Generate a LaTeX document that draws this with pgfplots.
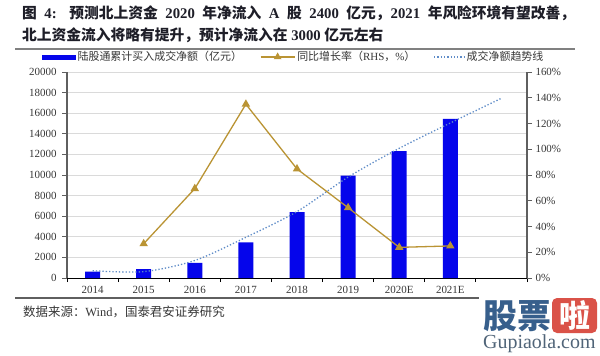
\documentclass[border=0pt]{standalone}
\usepackage{pgfplots}
\pgfplotsset{compat=1.18}
\usepackage{fontspec}
\setmainfont{Liberation Serif}
\newfontfamily\cjk{Noto Sans CJK SC}
\definecolor{barblue}{RGB}{5,5,235}
\definecolor{gold}{RGB}{186,148,52}
\definecolor{trendc}{RGB}{95,140,200}
\definecolor{axgray}{RGB}{95,95,95}
\definecolor{gridgray}{RGB}{218,218,218}
\definecolor{txtgray}{RGB}{55,55,55}
\definecolor{titlecol}{RGB}{30,30,40}
\definecolor{wmblue}{RGB}{55,95,140}
\definecolor{wmred}{RGB}{218,82,72}
\definecolor{wmtext}{RGB}{80,100,120}

\pgfplotstableread{
x y
0 612
1 850
2 1460
3 3460
4 6400
5 9930
6 12330
7 15440
}\bars
\pgfplotstableread{
x y
1 26.6
2 69.4
3 135.0
4 84.7
5 54.6
6 23.8
7 24.9
}\growth
\pgfplotstableread{
x y
0 710
1 620
2 1700
3 3950
4 6450
5 9800
6 12590
7 15050
8 17450
}\trend

\begin{document}
\begin{tikzpicture}[x=1bp,y=1bp]
\fill[white] (0,0) rectangle (600,355);
\useasboundingbox (0,0) rectangle (600,355);

% title
\node[anchor=base west, inner sep=0pt, text=titlecol, font=\fontsize{14.8}{16}\selectfont\bfseries] at (22,337)
{\makebox[553bp][s]{{\cjk 图} 4: {\cjk 预测北上资金} 2020 {\cjk 年净流入} A {\cjk 股} 2400 {\cjk 亿元，}2021 {\cjk 年风险环境有望改善，}}};
\node[anchor=base west, inner sep=0pt, text=titlecol, font=\fontsize{14.8}{16}\selectfont\bfseries] at (22,315)
{{\cjk 北上资金流入将略有提升，预计净流入在} 3000 {\cjk 亿元左右}};
\draw[gray, line width=1.3bp] (15,306) -- (575,306);

% bottom rule and source
\draw[axgray, line width=1.4bp] (15,57) -- (479,57);
\draw[axgray, line width=2.6bp] (15,57) -- (23,57);
\node[anchor=base west, inner sep=0pt, text=txtgray, font=\fontsize{12.5}{14}\selectfont] at (23,39)
{{\cjk 数据来源：}Wind{\cjk ，国泰君安证券研究}};

% watermark
\node[anchor=base west, inner sep=0pt, text=wmblue, font=\fontsize{34}{36}\selectfont\bfseries\cjk] at (483,27) {股票};
\fill[wmred, rounded corners=5bp] (552,22) rectangle (597,57);
\node[anchor=base, inner sep=0pt, text=white, font=\fontsize{31}{33}\selectfont\bfseries\cjk] at (574.5,28) {啦};
\node[anchor=base west, inner sep=0pt, text=wmtext, font=\fontsize{20}{22}\selectfont] at (483,7) {Gupiaola.com};

\begin{axis}[
  at={(67bp,77bp)}, anchor=south west,
  scale only axis, width=460bp, height=206bp,
  xmin=-0.5, xmax=8.5, ymin=0, ymax=20000,
  axis x line*=bottom, axis y line*=left,
  x axis line style={black, line width=0.9bp},
  y axis line style={axgray, line width=1.4bp},
  xtick={0,...,7},
  xticklabels={2014,2015,2016,2017,2018,2019,2020E,2021E},
  major x tick style={draw=none},
  minor xtick={-0.5,0.5,...,8.5},
  minor x tick style={black, line width=0.9bp},
  minor tick length=4bp,
  ytick={0,2000,...,20000},
  ytick style={axgray, line width=0.9bp},
  major tick length=5bp,
  tick align=outside,
  ymajorgrids, grid style={gridgray, line width=0.9bp},
  scaled y ticks=false,
  /pgf/number format/1000 sep={},
  /pgf/number format/assume math mode=true,
  ticklabel style={font=\fontsize{11}{12}\selectfont, text=txtgray},
  yticklabel style={xshift=-2bp},
  clip=false,
]
\addplot[ybar, bar width=15bp, fill=barblue, draw=none] table[x=x,y=y] {\bars};
\addplot[trendc, line width=1.3bp, dash pattern=on 1.3bp off 2bp, smooth, tension=0.5] table[x=x,y=y] {\trend};
\end{axis}

\begin{axis}[
  at={(67bp,77bp)}, anchor=south west,
  scale only axis, width=460bp, height=206bp,
  xmin=-0.5, xmax=8.5, ymin=0, ymax=160,
  axis x line=none, axis y line*=right,
  y axis line style={axgray, line width=1.4bp},
  xtick=\empty,
  ytick={0,20,...,160},
  ytick style={axgray, line width=0.9bp},
  major tick length=5bp,
  tick align=outside,
  yticklabel={\pgfmathprintnumber{\tick}\%},
  /pgf/number format/assume math mode=true,
  ticklabel style={font=\fontsize{11}{12}\selectfont, text=txtgray},
  clip=false,
  legend columns=3,
  legend cell align=left,
  legend style={at={(-0.0543,1.0728)}, anchor=west, draw=none, fill=none,
    inner sep=0pt, font=\fontsize{11}{12}\selectfont, text=txtgray,
    /tikz/every even column/.append style={column sep=16bp}},
]
\addlegendimage{legend image code/.code={\fill[barblue] (0bp,-2.3bp) rectangle (33bp,2.3bp);}}
\addlegendentry{{\cjk 陆股通累计买入成交净额（亿元）}}
\addplot[gold, line width=1.3bp, mark=triangle*, mark size=3.6bp, mark options={fill=gold, draw=gold},
  legend image code/.code={\draw[gold, line width=1.3bp, mark=triangle*, mark size=3.2bp, mark repeat=2, mark phase=2, mark options={fill=gold}] plot coordinates {(0bp,0bp) (17bp,0bp) (34bp,0bp)};}]
  table[x=x,y=y] {\growth};
\addlegendentry{{\cjk 同比增长率（}RHS{\cjk ，}\%{\cjk ）}}
\addlegendimage{legend image code/.code={\draw[trendc, line width=1.3bp, dash pattern=on 1.3bp off 2bp] (0bp,0bp) -- (30bp,0bp);}}
\addlegendentry{{\cjk 成交净额趋势线}}
\end{axis}
\end{tikzpicture}
\end{document}
